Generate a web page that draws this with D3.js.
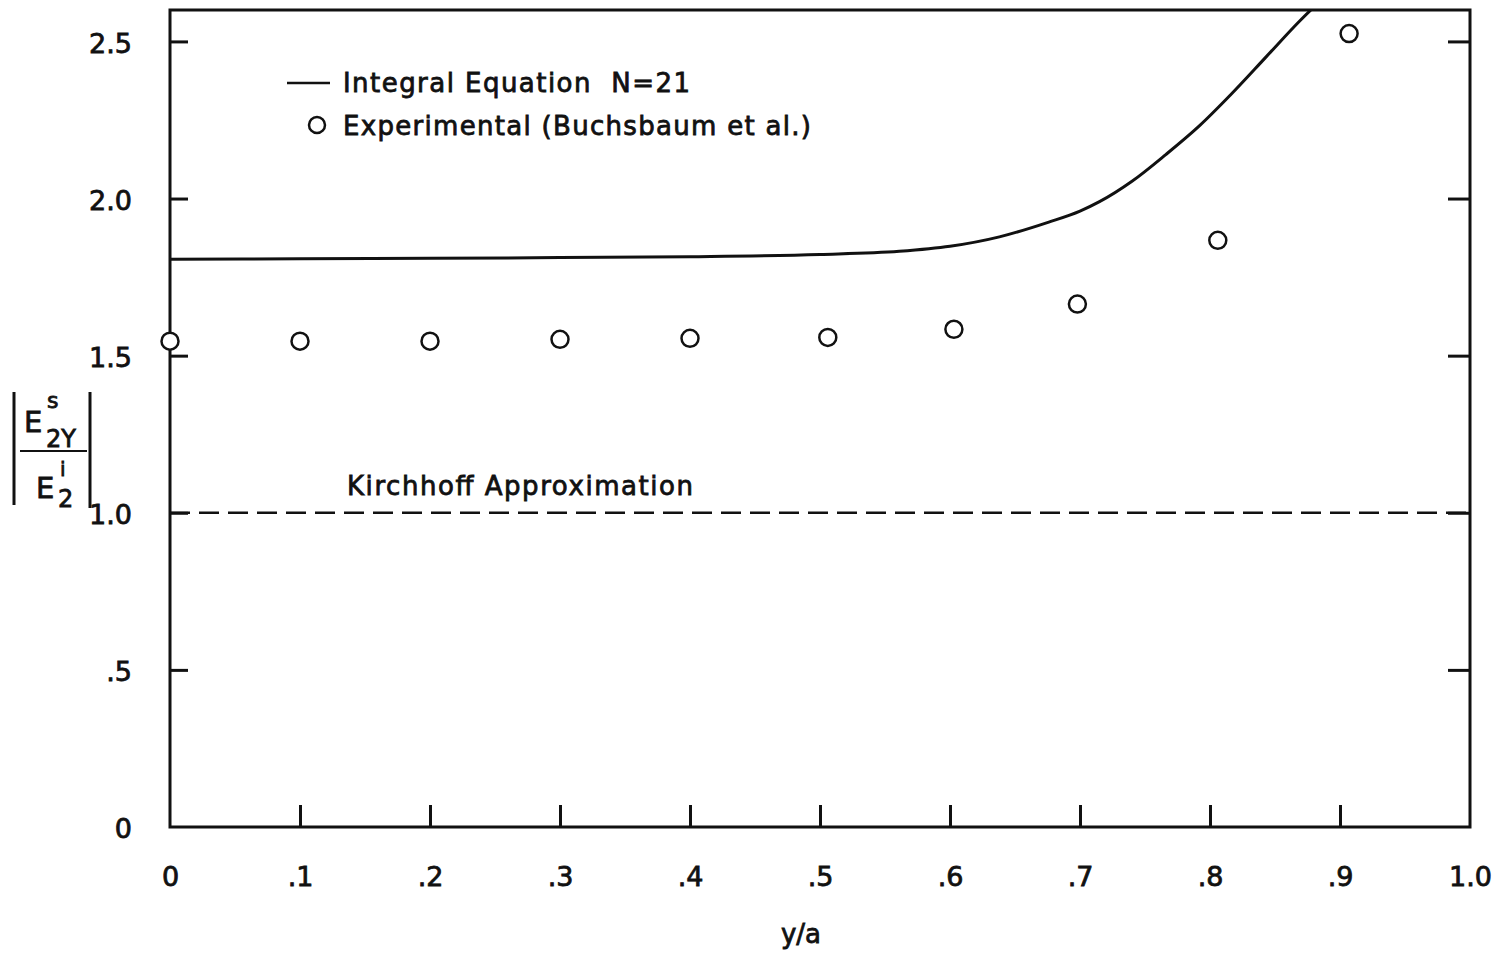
<!DOCTYPE html>
<html>
<head>
<meta charset="utf-8">
<script src="https://cdn.jsdelivr.net/npm/d3@7/dist/d3.min.js"></script>
<style>
  html, body { margin: 0; padding: 0; background: #fff; }
  svg { display: block; }
  text { font-family: "DejaVu Sans", "Liberation Sans", sans-serif; fill: #111; stroke: #111; stroke-width: 0.8px; }
</style>
</head>
<body>
<svg id="chart" width="1501" height="956"></svg>
<script>

// Axis ticks:
const xTickValues = [0, 0.1, 0.2, 0.3, 0.4, 0.5, 0.6, 0.7, 0.8, 0.9, 1.0]
const xTickLabels = ["0", ".1", ".2", ".3", ".4", ".5", ".6", ".7", ".8", ".9", "1.0"]
const yTickValues = [0, 0.5, 1.0, 1.5, 2.0, 2.5]
const yTickLabels = ["0", ".5", "1.0", "1.5", "2.0", "2.5"]

// Integral equation (N=21), solid curve:
const integralX = [0, 0.1, 0.2, 0.3, 0.4, 0.5, 0.561, 0.6, 0.638, 0.676, 0.70, 0.715, 0.74, 0.766, 0.792, 0.817, 0.843, 0.869, 0.885]
const integralY = [1.807, 1.808, 1.810, 1.812, 1.815, 1.822, 1.832, 1.848, 1.878, 1.925, 1.960, 1.990, 2.055, 2.140, 2.232, 2.335, 2.450, 2.565, 2.63]

// Experimental points (Buchsbaum et al.):
const expX = [0, 0.1, 0.2, 0.3, 0.4, 0.506, 0.603, 0.698, 0.806, 0.907]
const expY = [1.546, 1.546, 1.546, 1.552, 1.555, 1.558, 1.584, 1.664, 1.867, 2.525]

// Kirchhoff approximation, dashed:
const kirchhoffY = 1.0


const svg = d3.select("#chart")

// Plot frame:
const LEFT = 170, RIGHT = 1470, TOP = 10, BOTTOM = 827

const x = d3.scaleLinear().domain([0, 1]).range([LEFT, RIGHT])
const y = d3.scaleLinear().domain([0, 2.6]).range([BOTTOM, TOP])

svg.append("defs").append("clipPath")
    .attr("id", "plot-clip")
  .append("rect")
    .attr("x", LEFT).attr("y", TOP)
    .attr("width", RIGHT - LEFT).attr("height", BOTTOM - TOP)

// frame
svg.append("rect")
    .attr("x", LEFT).attr("y", TOP)
    .attr("width", RIGHT - LEFT).attr("height", BOTTOM - TOP)
    .attr("fill", "none")
    .attr("stroke", "#111")
    .attr("stroke-width", 3)

// bottom axis: ticks point inwards, labels drawn below
const xAxis = d3.axisBottom(x)
    .tickValues(xTickValues)
    .tickSize(-22)
    .tickPadding(40)
    .tickFormat((d, i) => xTickLabels[i])

const gx = svg.append("g")
    .attr("transform", "translate(0," + BOTTOM + ")")
    .call(xAxis)
gx.select(".domain").remove()
gx.selectAll(".tick line").attr("stroke", "#111").attr("stroke-width", 3)
gx.selectAll(".tick").filter(d => d === 0 || d === 1).select("line").remove()
gx.selectAll(".tick text")
    .attr("font-size", 27)
    .attr("font-family", "DejaVu Sans")
    .attr("fill", "#111")

// left axis
const yAxis = d3.axisLeft(y)
    .tickValues(yTickValues)
    .tickSize(-18)
    .tickPadding(38)
    .tickFormat((d, i) => yTickLabels[i])

const gy = svg.append("g")
    .attr("transform", "translate(" + LEFT + ",0)")
    .call(yAxis)
gy.select(".domain").remove()
gy.selectAll(".tick line").attr("stroke", "#111").attr("stroke-width", 3)
gy.selectAll(".tick").filter(d => d === 0).select("line").remove()
gy.selectAll(".tick text")
    .attr("font-size", 27)
    .attr("font-family", "DejaVu Sans")
    .attr("fill", "#111")
    .attr("dy", "0.4em")

// right axis, ticks only
const gyr = svg.append("g")
    .attr("transform", "translate(" + RIGHT + ",0)")
    .call(d3.axisRight(y).tickValues(yTickValues.filter(d => d > 0)).tickSize(-22).tickFormat(""))
gyr.select(".domain").remove()
gyr.selectAll(".tick line").attr("stroke", "#111").attr("stroke-width", 3)


const plot = svg.append("g").attr("clip-path", "url(#plot-clip)")

// Kirchhoff dashed line
plot.append("line")
    .attr("x1", x(0)).attr("x2", x(1))
    .attr("y1", y(kirchhoffY)).attr("y2", y(kirchhoffY))
    .attr("stroke", "#111")
    .attr("stroke-width", 2.5)
    .attr("stroke-dasharray", "20,9")

// Integral equation curve
const line = d3.line()
    .x(d => x(d[0]))
    .y(d => y(d[1]))
    .curve(d3.curveMonotoneX)

plot.append("path")
    .datum(d3.zip(integralX, integralY))
    .attr("d", line)
    .attr("fill", "none")
    .attr("stroke", "#111")
    .attr("stroke-width", 3)

// Experimental circles
svg.append("g").selectAll("circle")
    .data(d3.zip(expX, expY))
    .join("circle")
        .attr("cx", d => x(d[0]))
        .attr("cy", d => y(d[1]))
        .attr("r", 8.5)
        .attr("fill", "#fff")
        .attr("stroke", "#111")
        .attr("stroke-width", 2.5)


// Legend
svg.append("line")
    .attr("x1", 287).attr("x2", 330)
    .attr("y1", 83).attr("y2", 83)
    .attr("stroke", "#111").attr("stroke-width", 2.5)
svg.append("text")
    .attr("x", 343).attr("y", 92)
    .attr("font-size", 26)
    .attr("textLength", 347).attr("lengthAdjust", "spacing")
    .attr("xml:space", "preserve")
    .text("Integral Equation  N=21")

svg.append("circle")
    .attr("cx", 317).attr("cy", 125).attr("r", 8)
    .attr("fill", "none").attr("stroke", "#111").attr("stroke-width", 2.5)
svg.append("text")
    .attr("x", 343).attr("y", 135)
    .attr("font-size", 26)
    .attr("textLength", 468).attr("lengthAdjust", "spacing")
    .text("Experimental (Buchsbaum et al.)")

// Kirchhoff label
svg.append("text")
    .attr("x", 347).attr("y", 495)
    .attr("font-size", 26)
    .attr("textLength", 346).attr("lengthAdjust", "spacing")
    .text("Kirchhoff  Approximation")

// x axis title
svg.append("text")
    .attr("x", 801).attr("y", 943)
    .attr("text-anchor", "middle")
    .attr("font-size", 26)
    .text("y/a")

// y axis title: |E^s_2Y / E^i_2|
const ylab = svg.append("g")
ylab.append("line").attr("x1", 14).attr("x2", 14).attr("y1", 392).attr("y2", 505)
    .attr("stroke", "#111").attr("stroke-width", 3)
ylab.append("line").attr("x1", 90).attr("x2", 90).attr("y1", 392).attr("y2", 508)
    .attr("stroke", "#111").attr("stroke-width", 3)
ylab.append("line").attr("x1", 20).attr("x2", 87).attr("y1", 451).attr("y2", 451)
    .attr("stroke", "#111").attr("stroke-width", 2)
ylab.append("text").attr("x", 24).attr("y", 432).attr("font-size", 29).text("E")
ylab.append("text").attr("x", 47).attr("y", 408).attr("font-size", 22).text("s")
ylab.append("text").attr("x", 46).attr("y", 447).attr("font-size", 24).text("2Y")
ylab.append("text").attr("x", 36).attr("y", 498).attr("font-size", 29).text("E")
ylab.append("text").attr("x", 60).attr("y", 476).attr("font-size", 20).text("i")
ylab.append("text").attr("x", 58).attr("y", 507).attr("font-size", 24).text("2")

</script>
</body>
</html>
